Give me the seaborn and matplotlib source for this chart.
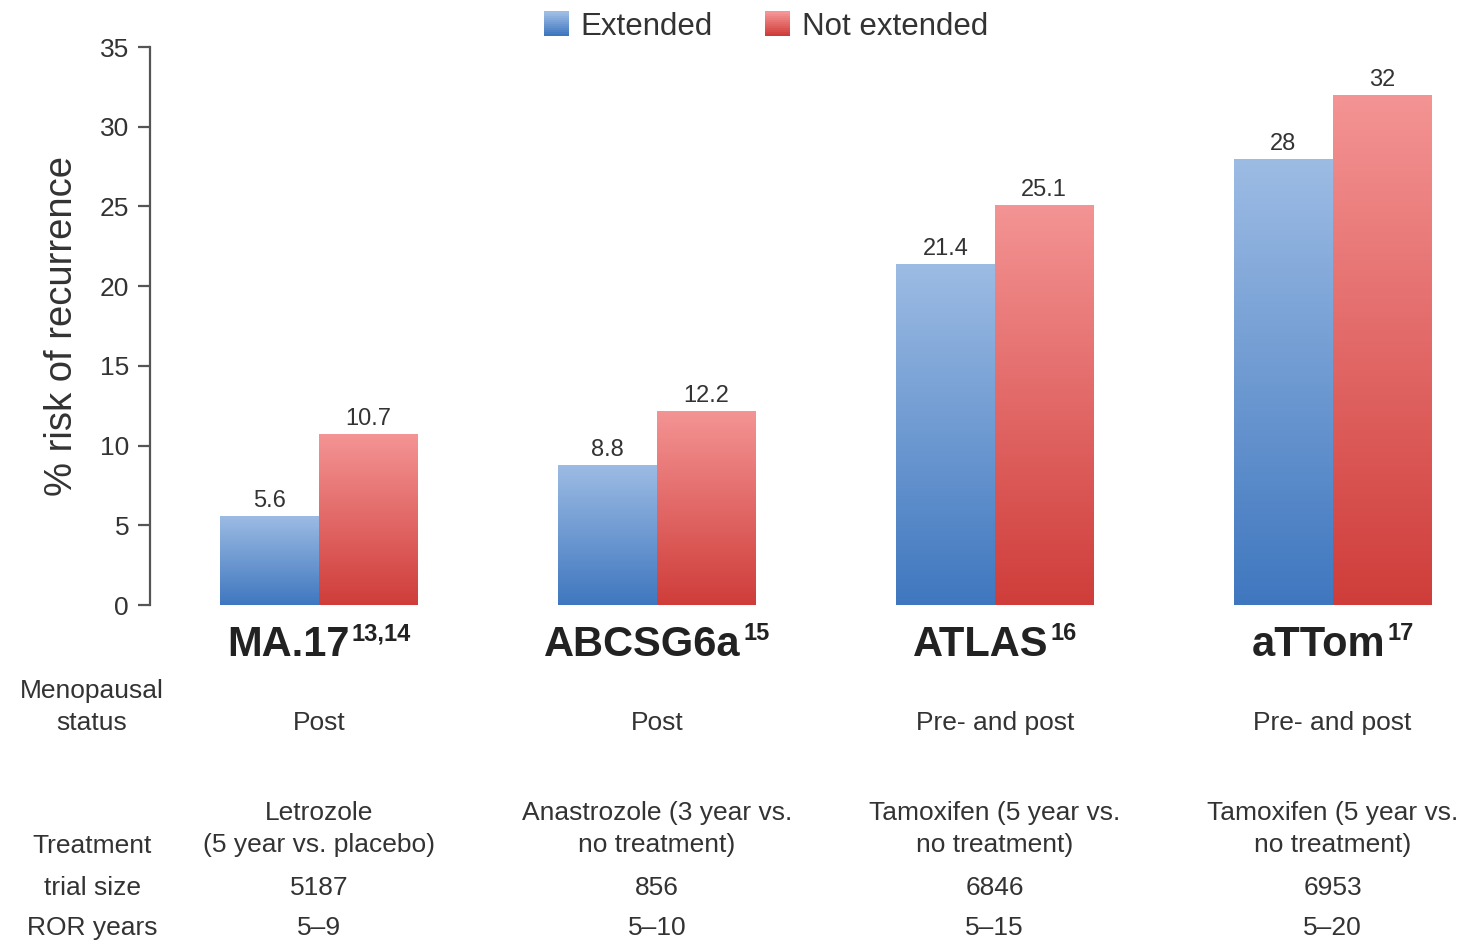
import numpy as np
import pandas as pd
import matplotlib
matplotlib.use("Agg")
import matplotlib.pyplot as plt
import seaborn as sns
from matplotlib.colors import LinearSegmentedColormap
from matplotlib.patches import Rectangle
from matplotlib.legend_handler import HandlerBase

# ---- data ----
trials = ["MA.17", "ABCSG6a", "ATLAS", "aTTom"]
refs = ["13,14", "15", "16", "17"]
extended = [5.6, 8.8, 21.4, 28]
not_extended = [10.7, 12.2, 25.1, 32]
series = ["Extended", "Not extended"]
menopausal = ["Post", "Post", "Pre- and post", "Pre- and post"]
treatment = ["Letrozole\n(5 year vs. placebo)",
             "Anastrozole (3 year vs.\nno treatment)",
             "Tamoxifen (5 year vs.\nno treatment)",
             "Tamoxifen (5 year vs.\nno treatment)"]
trial_size = ["5187", "856", "6846", "6953"]
ror_years = ["5\u20139", "5\u201310", "5\u201315", "5\u201320"]
yticks = [0, 5, 10, 15, 20, 25, 30, 35]

df = pd.DataFrame({
    "trial": trials * 2,
    "series": [series[0]] * 4 + [series[1]] * 4,
    "risk": extended + not_extended,
})

# gradient ends (top, bottom) for each series
grad = {
    "Extended": ("#9dbce4", "#3f77bf"),
    "Not extended": ("#f49494", "#cf3d3a"),
}

sns.set_theme(style="white")
plt.rcParams["font.family"] = ["Liberation Sans", "DejaVu Sans"]

TXT = "#333333"

fig = plt.figure(figsize=(14.7, 9.43), dpi=100)
ax = fig.add_axes([0.102, 0.3584, 0.891, 0.5917])

sns.barplot(data=df, x="trial", y="risk", hue="series", order=trials,
            hue_order=series, width=0.584, ax=ax, legend=False,
            palette=[grad[s][1] for s in series], saturation=1)

XL = (-0.5, 3.376)
YL = (0, 35)

# replace flat fills with vertical gradients clipped to each bar
for container, s in zip(ax.containers, series):
    cmap = LinearSegmentedColormap.from_list(s, [grad[s][1], grad[s][0]])
    for bar, val in zip(container.patches, container.datavalues):
        x0, y0 = bar.get_x(), bar.get_y()
        w, h = bar.get_width(), bar.get_height()
        bar.set_facecolor("none")
        bar.set_edgecolor("none")
        img = ax.imshow(np.linspace(0, 1, 256).reshape(-1, 1), cmap=cmap,
                        origin="lower", aspect="auto",
                        extent=[x0, x0 + w, y0, y0 + h], zorder=2)
        img.set_clip_path(bar)
        ax.text(x0 + w / 2, y0 + h + 0.25, f"{val:g}", ha="center",
                va="bottom", fontsize=17, color=TXT)

ax.set_xlim(*XL)
ax.set_ylim(*YL)
ax.set_yticks(yticks)
ax.tick_params(axis="y", labelsize=19, colors="#555555", labelcolor=TXT,
               length=9, width=1.6, direction="out", left=True, pad=6)
ax.tick_params(axis="x", bottom=False, labelbottom=False)
ax.set_xlabel("")
ax.set_ylabel("% risk of recurrence", fontsize=27.5, color=TXT, labelpad=14)
for side in ["top", "right", "bottom"]:
    ax.spines[side].set_visible(False)
ax.spines["left"].set_color("#555555")
ax.spines["left"].set_linewidth(1.6)


# legend with small gradient swatches
class GradientHandler(HandlerBase):
    def __init__(self, top, bottom, n=12):
        super().__init__()
        self.top, self.bottom, self.n = top, bottom, n

    def create_artists(self, legend, orig_handle, xdescent, ydescent,
                       width, height, fontsize, trans):
        cm = LinearSegmentedColormap.from_list("g", [self.bottom, self.top])
        size = height * 0.95
        x = -xdescent + (width - size) / 2
        y = -ydescent + (height - size) / 2
        arts = []
        for i in range(self.n):
            r = Rectangle((x, y + size * i / self.n), size, size / self.n + 0.3,
                          facecolor=cm(i / (self.n - 1)), edgecolor="none",
                          transform=trans)
            arts.append(r)
        return arts


handles = [Rectangle((0, 0), 1, 1, label=s) for s in series]
fig.legend(handles=handles, labels=series, loc="center",
           bbox_to_anchor=(0.5214, 0.972), ncol=2, frameon=False,
           fontsize=22.5, handlelength=0.75, handleheight=0.9,
           handletextpad=0.4, columnspacing=1.7, labelcolor=TXT,
           handler_map={h: GradientHandler(*grad[s]) for h, s in zip(handles, series)})


def fy(py):
    return 1 - py / 943


def data_to_fig(xv):
    return fig.transFigure.inverted().transform(
        ax.transData.transform((xv, 0)))[0]


# trial names with reference superscripts, centred as one unit
renderer = fig.canvas.get_renderer()
inv = fig.transFigure.inverted()
for i, (name, ref) in enumerate(zip(trials, refs)):
    fx = data_to_fig(i)
    main = fig.text(0, fy(656), name, ha="left", va="baseline",
                    fontsize=30, fontweight="bold", color="#222222")
    sup = fig.text(0, fy(640), ref, ha="left", va="baseline",
                   fontsize=17, fontweight="bold", color="#222222")
    bm = main.get_window_extent(renderer)
    bs = sup.get_window_extent(renderer)
    wm = inv.transform((bm.width, 0))[0] - inv.transform((0, 0))[0]
    ws = inv.transform((bs.width, 0))[0] - inv.transform((0, 0))[0]
    gap = 2 / 1470
    left = fx - (wm + gap + ws) / 2
    main.set_x(left)
    sup.set_x(left + wm + gap)

# table rows beneath the chart
row_x = 92 / 1470
fig.text(row_x, fy(707), "Menopausal\nstatus", ha="center", va="center",
         fontsize=19, color=TXT, linespacing=1.45)
fig.text(row_x, fy(846), "Treatment", ha="center", va="center",
         fontsize=19, color=TXT)
fig.text(row_x, fy(888), "trial size", ha="center", va="center",
         fontsize=19, color=TXT)
fig.text(row_x, fy(928), "ROR years", ha="center", va="center",
         fontsize=19, color=TXT)

for i in range(len(trials)):
    fx = data_to_fig(i)
    fig.text(fx, fy(723), menopausal[i], ha="center", va="center",
             fontsize=19, color=TXT)
    fig.text(fx, fy(829), treatment[i], ha="center", va="center",
             fontsize=19, color=TXT, linespacing=1.45)
    fig.text(fx, fy(888), trial_size[i], ha="center", va="center",
             fontsize=19, color=TXT)
    fig.text(fx, fy(928), ror_years[i], ha="center", va="center",
             fontsize=19, color=TXT)

fig.savefig("out.png", dpi=100)
